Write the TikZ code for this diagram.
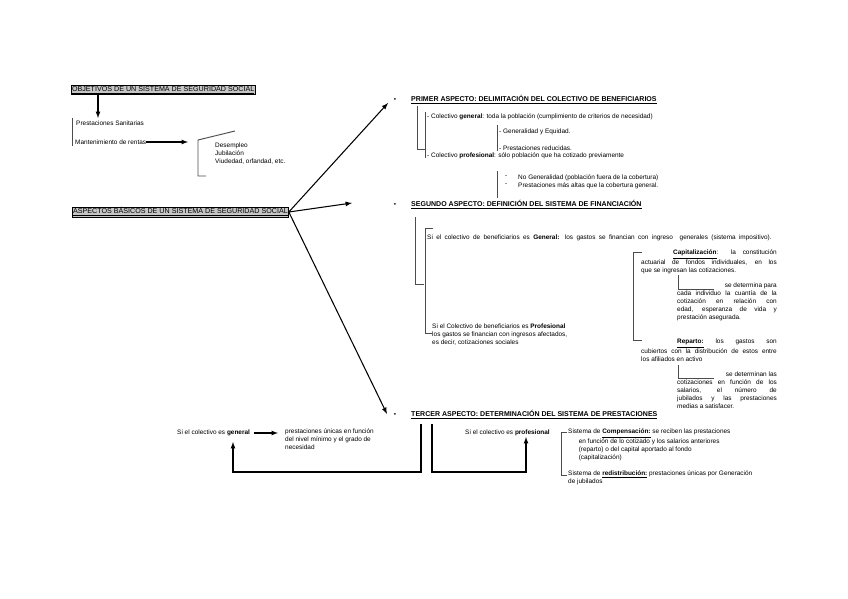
\documentclass[tikz,border=0pt]{standalone}
\usepackage{fontspec}
\setmainfont{Liberation Sans}
\usetikzlibrary{calc}
\newcommand{\negr}[1]{\textbf{#1}}
\newcommand{\subn}[1]{\underline{\textbf{#1}}}

\begin{document}
\begin{tikzpicture}[x=0.3mm, y=-0.3mm,
    every node/.style={inner sep=0pt, font=\fontsize{5.5}{6.8}\selectfont},
    txt/.style={anchor=west},
    blk/.style={anchor=north west, align=left},
    caja/.style={anchor=west, draw, fill=gray!45, inner sep=0.7pt, line width=0.4pt, font=\fontsize{6.1}{7}\selectfont},
    titulo/.style={anchor=west, font=\fontsize{6}{7}\selectfont\bfseries},
    punto/.style={anchor=center},
    flecha/.style={->, >=latex, line width=0.9pt},
    llave/.style={line width=0.8pt, black!70}]
    \useasboundingbox (0,0) rectangle (848,599);

    % Objetivos
    \node[caja] (obj) at (71,90) {\underline{OBJETIVOS DE UN SISTEMA DE SEGURIDAD SOCIAL}};
    \coordinate (objfin) at (98,118);
    \draw[flecha] (obj.south -| objfin) -- (objfin);
    \draw[llave] (72,118) -- (72,146);
    \node[txt] (sanit) at (76,123) {Prestaciones Sanitarias};
    \node[txt] (rentas) at (75,142) {Mantenimiento de rentas};
    \coordinate (rentasfin) at (188,142);
    \draw[flecha] (rentas.east) -- (rentasfin);
    \draw[llave] (235,131) -- (198,140) -- (198,176) -- (206,176);
    \node[blk] (contin) at (215,143) {Desempleo\\Jubilación\\Viudedad, orfandad, etc.};

    % Aspectos basicos
    \node[caja] (asp) at (72,212) {\underline{ASPECTOS BÁSICOS DE UN SISTEMA DE SEGURIDAD SOCIAL}};
    \coordinate (a1) at (388,103);
    \coordinate (a2) at (352,203);
    \coordinate (a3) at (387,414);
    \draw[flecha] (asp.east) -- (a1);
    \draw[flecha] (asp.east) -- (a2);
    \draw[flecha] (asp.east) -- (a3);

    % Primer aspecto
    \node[punto] (b1) at (395,100) {\textbullet};
    \node[titulo] (h1) at (411,100) {\underline{PRIMER ASPECTO: DELIMITACIÓN DEL COLECTIVO DE BENEFICIARIOS}};
    \draw[llave] (417,106) -- (417,149) -- (425,149);
    \draw[llave] (425,112) -- (425,158);
    \node[txt] (cgen) at (427,117) {- Colectivo \negr{general}: toda la población (cumplimiento de criterios de necesidad)};
    \draw[llave] (497,125) -- (497,151);
    \node[txt] (equi) at (499,132) {- Generalidad y Equidad.};
    \node[txt] (reduc) at (499,148) {- Prestaciones reducidas.};
    \node[txt] (cprof) at (427,156) {- Colectivo \negr{profesional}: sólo población que ha cotizado previamente};
    \draw[llave] (497,171) -- (497,198);
    \node[blk] (guion) at (505,175) {-\\-};
    \node[blk] (altas) at (518,175) {No Generalidad (población fuera de la cobertura)\\Prestaciones más altas que la cobertura general.};

    % Segundo aspecto
    \node[punto] (b2) at (395,205) {\textbullet};
    \node[titulo] (h2) at (411,205) {\underline{SEGUNDO ASPECTO: DEFINICIÓN DEL SISTEMA DE FINANCIACIÓN}};
    \draw[llave] (415,217) -- (415,284) -- (424,284);
    \draw[llave] (433,228) -- (425,228) -- (425,333) -- (432,333);
    \node[txt] (fgen) at (427,238) {\makebox[294pt][s]{Si el colectivo de beneficiarios es \negr{General:} los gastos se financian con ingreso\ \ generales (sistema impositivo).}};
    \node[blk] (fprof) at (432,324) {Si el Colectivo de beneficiarios es \negr{Profesional}\\los gastos se financian con ingresos afectados,\\es decir, cotizaciones sociales};

    % Capitalizacion y reparto
    \draw[llave] (642,252) -- (633,252) -- (633,340) -- (642,340);
    \node[blk] (capit) at (641,250) {\makebox[115.7pt][r]{\makebox[88.4pt][s]{\subn{Capitalización}: la constitución}}\\
        \makebox[115.7pt][s]{actuarial de fondos individuales, en los}\\
        que se ingresan las cotizaciones.};
    \draw[llave] (678,275) -- (678,289) -- (714,289);
    \node[blk] (capdet) at (677,283) {\makebox[85pt][r]{se determina para}\\
        \makebox[85pt][s]{cada individuo la cuantía de la}\\
        \makebox[85pt][s]{cotización en relación con}\\
        \makebox[85pt][s]{edad, esperanza de vida y}\\
        prestación asegurada.};
    \node[blk] (repar) at (641,339) {\makebox[115.7pt][r]{\makebox[85pt][s]{\subn{Reparto:} los gastos son}}\\
        \makebox[115.7pt][s]{cubiertos con la distribución de estos entre}\\
        los afiliados en activo};
    \draw[llave] (678,365) -- (678,378) -- (714,378);
    \node[blk] (repdet) at (677,372) {\makebox[85pt][r]{se determinan las}\\
        \makebox[85pt][s]{cotizaciones en función de los}\\
        \makebox[85pt][s]{salarios, el número de}\\
        \makebox[85pt][s]{jubilados y las prestaciones}\\
        medias a satisfacer.};

    % Tercer aspecto
    \node[punto] (b3) at (395,415) {\textbullet};
    \node[titulo] (h3) at (411,415) {\underline{TERCER ASPECTO: DETERMINACIÓN DEL SISTEMA DE PRESTACIONES}};
    \node[txt] (pgen) at (177,433) {Si el colectivo es \negr{general}};
    \node[blk] (pgenres) at (285,429) {prestaciones únicas en función\\del nivel mínimo y el grado de\\necesidad};
    \draw[flecha, shorten <=3pt, shorten >=6pt] (pgen.east) -- (pgen.east -| pgenres.west);
    \node[txt] (pprof) at (465,433) {Si el colectivo es \negr{profesional}};
    \coordinate (t1) at (421,424);
    \coordinate (t2) at (432,424);
    \coordinate (pgenup) at (233,442);
    \coordinate (pprofup) at (526,437);
    \coordinate (base) at (0,472);
    \draw[flecha] (t1) -- (t1 |- base) -| (pgenup);
    \draw[flecha] (t2) -- (t2 |- base) -| (pprofup);
    \draw[llave] (567,432) -- (561,432) -- (561,475) -- (567,475);
    \node[blk] (comp) at (568,429) {Sistema de \subn{Compensación:} se reciben las prestaciones\\
        \hspace*{9pt}en función de lo cotizado y los salarios anteriores\\
        \hspace*{9pt}(reparto) o del capital aportado al fondo\\
        \hspace*{9pt}(capitalización)};
    \node[blk] (redis) at (568,471) {Sistema de \subn{redistribución:} prestaciones únicas por Generación\\de jubilados};
\end{tikzpicture}
\end{document}
